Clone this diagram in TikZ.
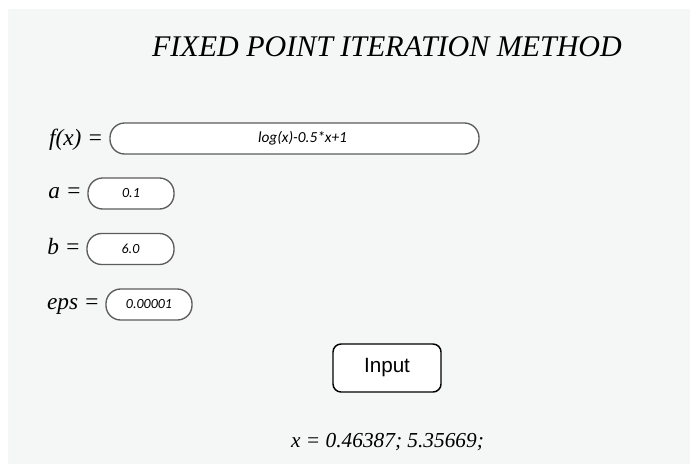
\documentclass[tikz,border=0pt]{standalone}
\usepackage{fontspec}
\usetikzlibrary{positioning}
\setmainfont{Liberation Serif}
\newfontfamily\fieldfont{Carlito}
\newfontfamily\buttonfont{Liberation Sans}
\definecolor{panelgray}{HTML}{F5F6F6}
\definecolor{fieldedge}{HTML}{5C5C5C}
\tikzset{
  fieldbox/.style={draw=fieldedge, line width=1pt, fill=white, rounded corners=11pt,
    minimum height=23.25pt, inner sep=0pt, font=\fieldfont\itshape\fontsize{10.5}{12}\selectfont},
  fieldlabel/.style={anchor=base east, inner sep=0pt, font=\itshape\fontsize{17.5}{20}\selectfont},
}
\begin{document}
\begin{tikzpicture}[x=0.75pt,y=-0.75pt]
\useasboundingbox (0,0) rectangle (695,464);
\fill[white] (0,0) rectangle (695,464);
\fill[panelgray] (8,9) rectangle (690,464);
% title
\node[anchor=base, inner sep=0pt, font=\itshape\fontsize{22.5}{26}\selectfont] (title) at (387,56) {FIXED POINT ITERATION METHOD};
% input fields
\node[fieldbox, minimum width=276.75pt, font=\fieldfont\itshape\fontsize{11.5}{13}\selectfont] (fbox) at (294.5,138.5) {\hspace*{12pt}log(x)-0.5*x+1};
\node[fieldbox, minimum width=64.5pt] (abox) at (131,193.5) {0.1};
\node[fieldbox, minimum width=65.25pt] (bbox) at (130.5,249) {6.0};
\node[fieldbox, minimum width=64.5pt] (epsbox) at (149,304.5) {0.00001};
\node[fieldlabel] (flabel) at ([xshift=-4.5pt,yshift=-5.5pt]fbox.west) {f(x) =};
\node[fieldlabel] (alabel) at ([xshift=-4pt,yshift=-4pt]abox.west) {a =};
\node[fieldlabel] (blabel) at ([xshift=-4pt,yshift=-4pt]bbox.west) {b =};
\node[fieldlabel] (epslabel) at ([xshift=-4pt,yshift=-3.5pt]epsbox.west) {eps =};
% button
\node[draw=black, line width=1.1pt, fill=white, rounded corners=6pt, minimum width=81pt, minimum height=36pt,
  font=\buttonfont\fontsize{15.5}{18}\selectfont] (inputbtn) at (387,368) {Input};
% result
\node[anchor=base, inner sep=0pt, font=\itshape\fontsize{16}{19}\selectfont] (result) at (387.5,447) {x = 0.46387; 5.35669;};
\end{tikzpicture}
\end{document}
